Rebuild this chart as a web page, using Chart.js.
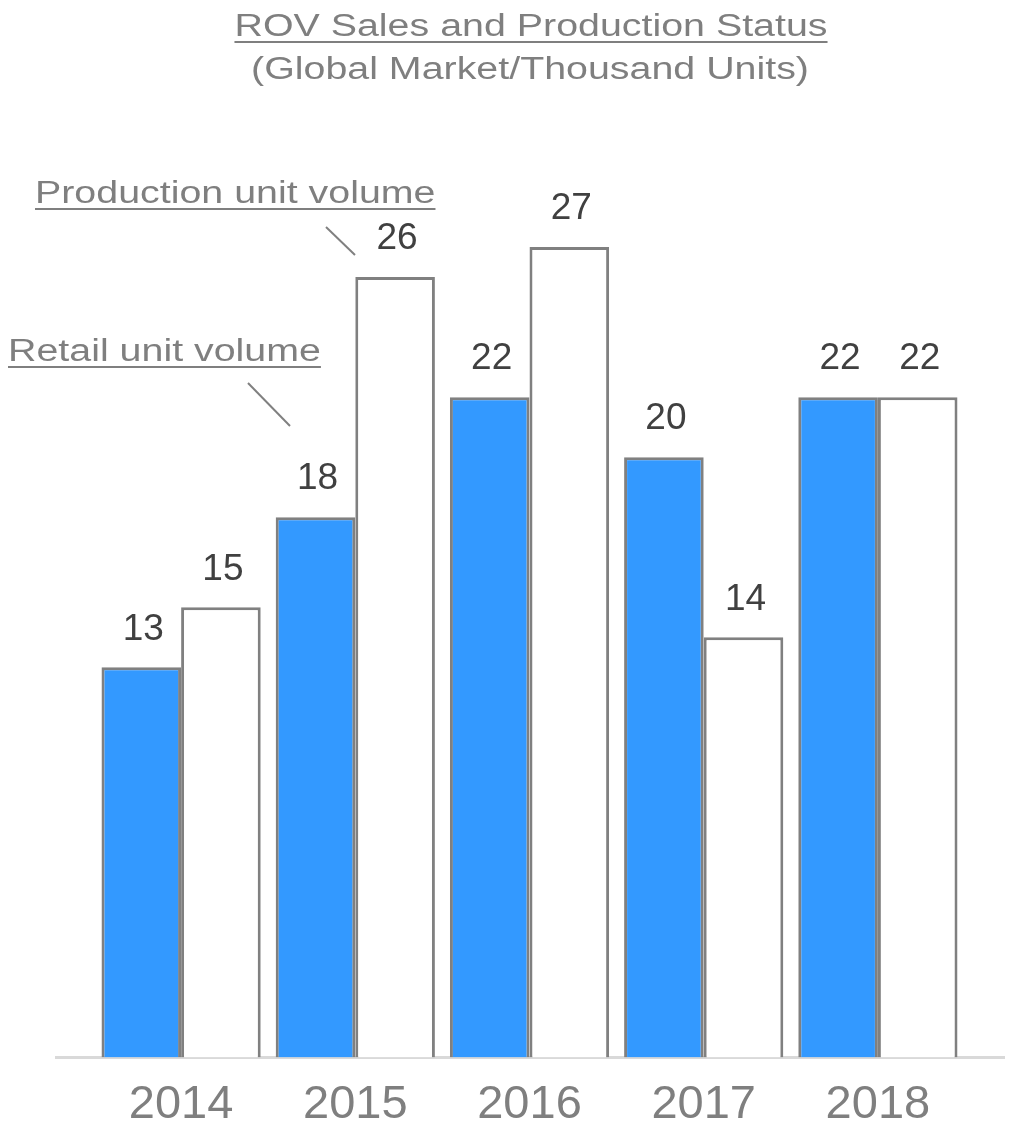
<!DOCTYPE html>
<html>
<head>
<meta charset="utf-8">
<script src="https://cdn.jsdelivr.net/npm/chart.js@4"></script>
<style>
  body { margin: 0; background: #fff; }
  canvas { display: block; }
</style>
</head>
<body>
<canvas id="rovChart" width="1011" height="1131"></canvas>
<script>
var years = ['2014', '2015', '2016', '2017', '2018'];
var retailUnits = [13, 18, 22, 20, 22];
var productionUnits = [15, 26, 27, 14, 22];

var titleLines = ['ROV Sales and Production Status', '(Global Market/Thousand Units)'];
var retailLabel = 'Retail unit volume';
var productionLabel = 'Production unit volume';

var GREY = '#808080';
var TEXT_GREY = '#7f7f7f';

// text in the headings is drawn a bit wider than normal
function wideText(ctx, text, x, y, align, underline) {
    ctx.save();
    ctx.font = '31px "Liberation Sans", Arial, sans-serif';
    ctx.fillStyle = TEXT_GREY;
    ctx.textBaseline = 'alphabetic';
    var sx = 1.27;
    var w = ctx.measureText(text).width * sx;
    var left = align === 'center' ? x - w / 2 : x;
    ctx.translate(left, y);
    ctx.scale(sx, 1);
    ctx.textAlign = 'left';
    ctx.fillText(text, 0, 0);
    ctx.restore();
    if (underline) {
        ctx.save();
        ctx.strokeStyle = TEXT_GREY;
        ctx.lineWidth = 2;
        ctx.beginPath();
        ctx.moveTo(left, y + 6);
        ctx.lineTo(left + w, y + 6);
        ctx.stroke();
        ctx.restore();
    }
}

function line(ctx, x1, y1, x2, y2, color, width) {
    ctx.save();
    ctx.strokeStyle = color;
    ctx.lineWidth = width;
    ctx.beginPath();
    ctx.moveTo(x1, y1);
    ctx.lineTo(x2, y2);
    ctx.stroke();
    ctx.restore();
}

var decorations = {
    id: 'decorations',
    beforeDatasetsDraw: function (chart) {
        var y0 = chart.scales.y.getPixelForValue(0);
        line(chart.ctx, 55, y0, 1005, y0, '#d9d9d9', 3);
    },
    afterDatasetsDraw: function (chart) {
        var ctx = chart.ctx;
        // value labels above each bar
        ctx.save();
        ctx.font = '37px "Liberation Sans", Arial, sans-serif';
        ctx.fillStyle = '#404040';
        ctx.textAlign = 'center';
        ctx.textBaseline = 'middle';
        chart.data.datasets.forEach(function (ds, i) {
            chart.getDatasetMeta(i).data.forEach(function (bar, j) {
                ctx.fillText(ds.data[j], bar.x + 2, bar.y - 38);
            });
        });
        ctx.restore();

        wideText(ctx, titleLines[0], 531, 36, 'center', true);
        wideText(ctx, titleLines[1], 530, 79, 'center', false);
        wideText(ctx, productionLabel, 35, 203, 'left', true);
        wideText(ctx, retailLabel, 8, 361, 'left', true);
        line(ctx, 326, 227, 355, 255, GREY, 2);
        line(ctx, 248, 383, 290, 426, GREY, 2);
    }
};

var ctx = document.getElementById('rovChart').getContext('2d');
var rovChart = new Chart(ctx, {
    type: 'bar',
    data: {
        labels: years,
        datasets: [{
            label: retailLabel,
            data: retailUnits,
            backgroundColor: '#3399ff',
            borderColor: GREY,
            borderWidth: 3,
            categoryPercentage: 0.914,
            barPercentage: 1.0
        }, {
            label: productionLabel,
            data: productionUnits,
            backgroundColor: '#ffffff',
            borderColor: GREY,
            borderWidth: 3,
            categoryPercentage: 0.914,
            barPercentage: 1.0
        }]
    },
    options: {
        responsive: false,
        animation: false,
        layout: {
            padding: { top: 157, left: 94, right: 46, bottom: -21 }
        },
        plugins: {
            legend: { display: false },
            tooltip: { enabled: false }
        },
        scales: {
            x: {
                grid: { display: false, drawTicks: false },
                border: { display: false },
                ticks: {
                    color: TEXT_GREY,
                    padding: 19,
                    font: { family: '"Liberation Sans", Arial, sans-serif', size: 47 }
                }
            },
            y: {
                display: false,
                min: 0,
                max: 30
            }
        }
    },
    plugins: [decorations]
});
</script>
</body>
</html>
